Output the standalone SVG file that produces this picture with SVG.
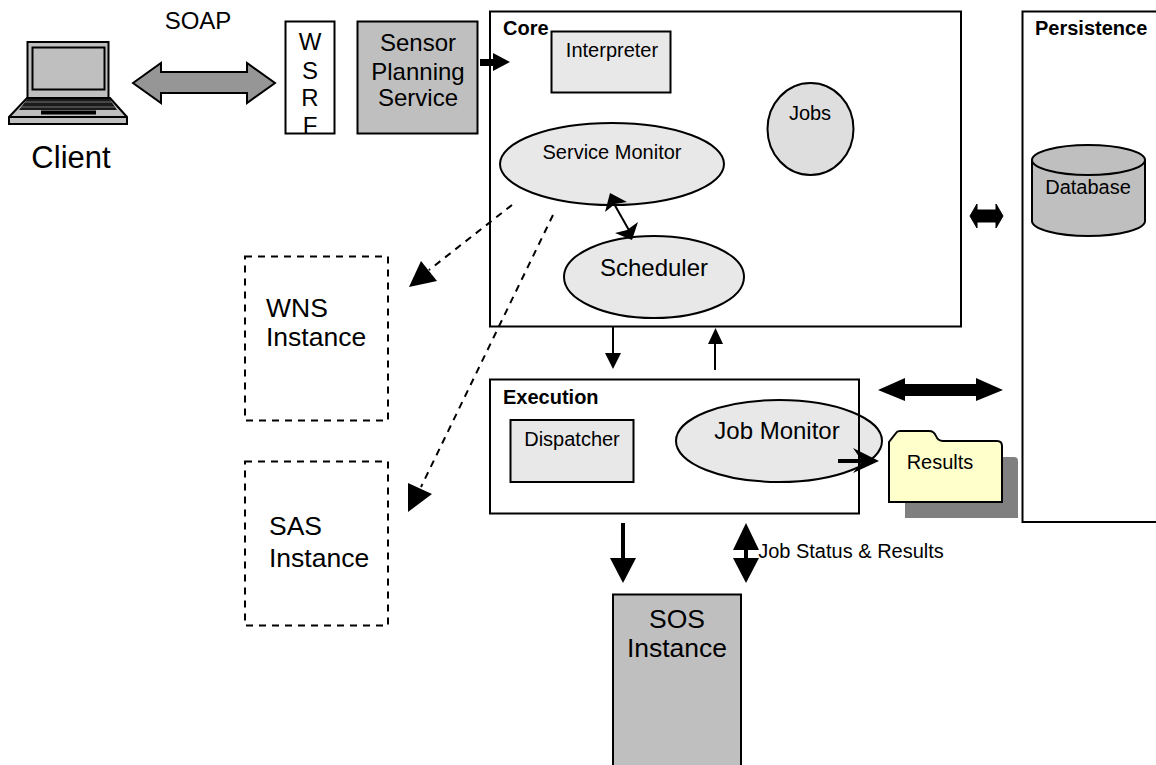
<svg xmlns="http://www.w3.org/2000/svg" width="1156" height="765" viewBox="0 0 1156 765">
<style>
text{font-family:"Liberation Sans",Arial,sans-serif;fill:#000;text-anchor:middle}
.b{font-weight:bold;font-size:20px;text-anchor:start}
.t{font-size:20px}
.l{font-size:24px}
.x{font-size:26.500px}
.st{text-anchor:start}
.s{stroke:#000;stroke-width:2}
.lt{fill:#e8e8e8}
.md{fill:#bfbfbf}
.w{fill:#fff}
.d{fill:none;stroke:#000;stroke-width:2;stroke-dasharray:7 6}
.c{fill:none;stroke:#000}
</style>
<g id="client">
<path d="M9 117L27 98H110L127 117V124H9Z" fill="#bfbfbf" stroke="#000" stroke-width="2"/>
<path d="M9 117H127" class="c" stroke-width="2"/>
<path d="M19 110L28 98H109L117 110Z" fill="#1a1a1a"/>
<path d="M25 102H112M21 107H115" stroke="#777" stroke-width="1"/>
<rect x="41" y="110.500" width="55" height="4" fill="#000"/>
<rect x="27.500" y="42" width="81" height="56" fill="#bfbfbf" stroke="#000" stroke-width="2"/>
<rect x="32.500" y="47.500" width="72" height="42" fill="#bfbfbf" stroke="#000" stroke-width="2"/>
<text x="71" y="168" font-size="31">Client</text>
</g>
<g id="soap-label"><text class="l" x="198" y="29">SOAP</text></g>
<g id="wsrf">
<rect class="w" x="285.500" y="21.500" width="49" height="112"/>
<text class="l" x="310" y="50">W</text>
<text class="l" x="310" y="79">S</text>
<text class="l" x="310" y="106">R</text>
<text class="l" x="310" y="134">F</text>
<rect class="s" fill="none" x="285.500" y="21.500" width="49" height="112"/>
</g>
<g id="sps">
<rect class="md s" x="357.500" y="21.500" width="120" height="112"/>
<text class="l" x="418" y="51">Sensor</text>
<text class="l" x="418" y="80">Planning</text>
<text class="l" x="418" y="106">Service</text>
</g>
<g id="core">
<rect class="w s" x="490" y="11.500" width="471" height="315"/>
<text class="b" x="503" y="35">Core</text>
</g>
<g id="interpreter">
<rect class="lt s" x="551.500" y="31.500" width="119" height="61"/>
<text class="t" x="612" y="57">Interpreter</text>
</g>
<g id="jobs">
<ellipse class="s" fill="#dedede" cx="810.500" cy="129" rx="43" ry="46"/>
<text class="t" x="810" y="120">Jobs</text>
</g>
<g id="service-monitor">
<ellipse class="lt s" cx="612" cy="164" rx="112" ry="41"/>
<text class="t" x="612" y="159">Service Monitor</text>
</g>
<g id="scheduler">
<ellipse class="lt s" cx="654" cy="277" rx="90" ry="41"/>
<text class="l" x="654" y="276">Scheduler</text>
</g>
<g id="persistence">
<path class="w s" d="M1157 11.500H1022.500V522H1157"/>
<text class="b" x="1035" y="35">Persistence</text>
</g>
<g id="database">
<path class="md s" d="M1032 160V221C1032 229 1057 236 1088 236C1120 236 1145 229 1145 221V160C1145 152 1120 145 1088 145C1057 145 1032 152 1032 160Z"/>
<path class="c" stroke-width="2" d="M1032 160C1032 168 1057 175 1088 175C1120 175 1145 168 1145 160"/>
<text class="t" x="1088" y="194">Database</text>
</g>
<g id="execution">
<rect class="w s" x="490" y="379.500" width="369" height="134"/>
<text class="b" x="503" y="404">Execution</text>
</g>
<g id="dispatcher">
<rect class="lt s" x="510.500" y="420" width="123" height="62"/>
<text class="t" x="572" y="446">Dispatcher</text>
</g>
<g id="job-monitor">
<ellipse class="lt s" cx="779" cy="441" rx="103" ry="41"/>
<path class="c" stroke-width="2" d="M859 402V479"/>
<text class="l" x="777" y="439">Job Monitor</text>
</g>
<g id="results">
<path fill="#808080" d="M905 457H1014Q1018 457 1018 461V518H905Z"/>
<path fill="#ffffcc" stroke="#000" stroke-width="2" d="M889 502V442L896 433Q897 431 900 431H929Q934 431 936 436Q938 441 943 441H997Q1002 441 1002 446V502Z"/>
<text class="t" x="940" y="469">Results</text>
</g>
<g id="wns">
<rect x="245" y="256.500" width="143" height="164" fill="#fff" class="d"/>
<text class="x st" x="266" y="317">WNS</text>
<text class="x st" x="266" y="346">Instance</text>
</g>
<g id="sas">
<rect x="245" y="461.500" width="143" height="164" fill="#fff" class="d"/>
<text class="x st" x="269" y="535">SAS</text>
<text class="x st" x="269" y="567">Instance</text>
</g>
<g id="sos">
<rect class="md s" x="613" y="594.500" width="128" height="178"/>
<text class="x" x="677" y="628">SOS</text>
<text class="x" x="677" y="657">Instance</text>
</g>
<g id="connectors">
<path fill="#969696" stroke="#000" stroke-width="2" d="M133 83L161 63V72H247V63L275 83L247 103V93H161V103Z"/>
<path d="M480 59H493V53L510 62L493 71V66H480Z"/>
<path class="c" stroke-width="2" d="M613 202L630 232"/>
<path d="M610 193L627 202L615 204L605 212Z"/>
<path d="M632 240L615 233L627 230L638 222Z"/>
<path class="d" d="M512 205L429 270"/>
<path d="M409 287L421 261L437 281Z"/>
<path class="d" d="M553 215L421 487"/>
<path d="M408 483L432 494L408 512Z"/>
<path class="c" stroke-width="2" d="M613 327V354"/>
<path d="M605 353H621L613 369Z"/>
<path class="c" stroke-width="2" d="M715 370V343"/>
<path d="M708 344H723L715.500 328Z"/>
<path d="M970 216L977 204V210H996V204L1003 216L996 228V222H977V228Z" stroke="#000" stroke-width="1" stroke-linejoin="round"/>
<path d="M878 390L905 378V384H976V378L1003 390L976 401V396H905V401Z"/>
<path class="c" stroke-width="4" d="M838 461H870"/>
<path d="M853 448L879 461L853 473L862 461Z"/>
<path class="c" stroke-width="4" d="M623 523V560"/>
<path d="M610 558H636L623 583Z"/>
<path d="M733 550H759L746 523Z"/>
<path d="M733 558H759L746 583Z"/>
<path class="c" stroke-width="4" d="M746 545V562"/>
</g>
<text class="t" x="851" y="558">Job Status &amp; Results</text>
</svg>
